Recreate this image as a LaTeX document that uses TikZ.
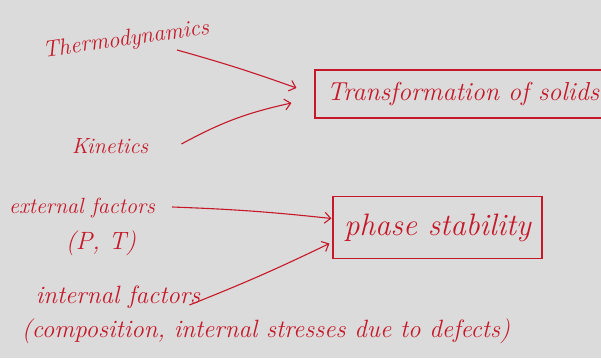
\documentclass[tikz,border=0pt]{standalone}
\usepackage{tikz}
\usetikzlibrary{arrows.meta}
\usetikzlibrary{calc}

\definecolor{ink}{RGB}{198,24,40}
\definecolor{board}{RGB}{219,219,219}

\tikzset{
    hand/.style={text=ink, inner sep=1pt,
        font=\fontsize{#1}{#1}\selectfont\itshape},
    hand/.default=22,
    inkbox/.style={draw=ink, line width=1.1pt, inner sep=0pt},
    penarrow/.style={draw=ink, line width=1.1pt,
        -{Straight Barb[length=6pt,width=11pt]}},
}

\begin{document}
\begin{tikzpicture}[x=1pt,y=1pt]
        \clip (0,0) rectangle (601,-358);
        \fill[board] (0,0) rectangle (601,-358);

        % causes of the transformation
        \node[hand=23, rotate=8] (thermo) at (126,-40) {Thermodynamics};
        \node[hand=22] (kinetics) at (110,-146) {Kinetics};

        \node[inkbox, minimum width=296pt, minimum height=48pt] (transform)
        at (463,-94) {}; \node[hand=26] (transtext) at (transform)
        {Transformation of solids};

        \draw[penarrow] ($(thermo.center)+(51,-10)$) to[bend left=2]
        ($(transform.west)+(-18,6)$); \draw[penarrow]
        ($(kinetics.east)+(32,2)$) to[bend left=8]
        ($(transform.west)+(-23,-9)$);

        % factors of the stability
        \node[hand=22] (extf) at (82,-208) {external factors};
        \node[hand=25] (ptpair) at (101,-243) {(P, T)};
        \node[hand=25] (intf) at (118,-297) {internal factors};
        \node[hand=25] (comp) at (266,-331)
        {(composition, internal stresses due to defects)};

        \node[inkbox, minimum width=209pt, minimum height=62pt] (phase)
        at (437.5,-227.5) {}; \node[hand=31] (phasetext) at (phase)
        {phase stability};

        \draw[penarrow] ($(extf.east)+(16,1)$) to[bend left=2]
        ($(phase.west)+(-1,9)$); \draw[penarrow] ($(intf.east)+(-12,-8)$)
        to[bend right=2] ($(phase.west)+(-3,-16)$);
\end{tikzpicture}
\end{document}
